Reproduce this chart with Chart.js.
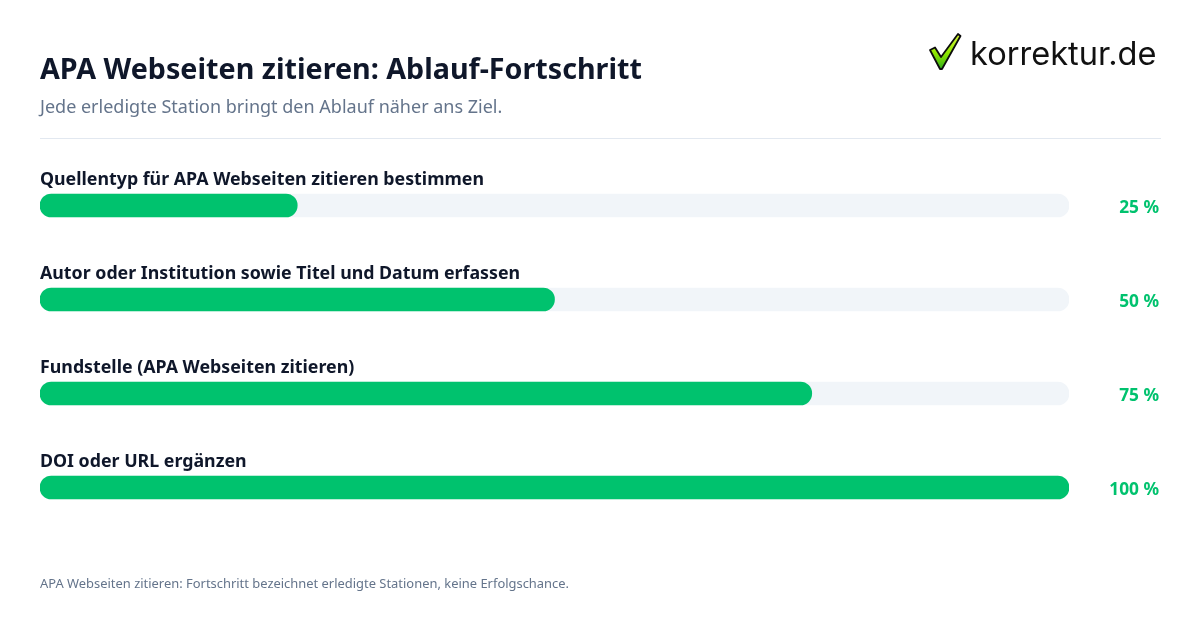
<!DOCTYPE html>
<html lang="de"><head><meta charset="utf-8">
<style>
html,body{margin:0;padding:0;background:#fff;width:1200px;height:630px;overflow:hidden;font-family:"Noto Sans",sans-serif}
#wrap{position:relative;width:1200px;height:630px}
#wrap div,#wrap svg,#wrap canvas{position:absolute}
#title{left:40px;top:47px;font-size:28.7px;font-weight:700;color:#0f172a;line-height:42px;white-space:nowrap}
#sub{left:40px;top:93px;font-size:18px;color:#64748b;line-height:26px;white-space:nowrap}
#rule{left:40px;top:138px;width:1121px;height:1px;background:#e2e8f0}
#foot{left:40px;top:573px;font-size:12.93px;color:#64748b;line-height:20px;white-space:nowrap}
#logo{left:970px;top:31px;font-family:Inter,sans-serif;font-size:32.6px;color:#111;line-height:44px;white-space:nowrap}
#c{left:0;top:0}
</style></head><body>
<div id="wrap">
<canvas id="c" width="1200" height="630" style="width:1200px;height:630px"></canvas>
<div id="title">APA Webseiten zitieren: Ablauf-Fortschritt</div>
<div id="sub">Jede erledigte Station bringt den Ablauf näher ans Ziel.</div>
<div id="rule"></div>
<svg style="left:925px;top:30px" width="40" height="44" viewBox="0 0 40 44">
<defs><linearGradient id="g" x1="0" y1="0" x2="0" y2="1"><stop offset="0" stop-color="#d8f53a"/><stop offset="0.55" stop-color="#8fe600"/><stop offset="1" stop-color="#2fae1a"/></linearGradient></defs>
<path d="M5 20 L10 17.5 L16 27 L33 4 L35.5 6 L17 39 L15 39 Z" fill="url(#g)" stroke="#0c0c0c" stroke-width="1.8" stroke-linejoin="round"/>
</svg>
<div id="logo">korrektur.de</div>
<div id="foot">APA Webseiten zitieren: Fortschritt bezeichnet erledigte Stationen, keine Erfolgschance.</div>
</div>
<script src="https://cdn.jsdelivr.net/npm/chart.js@4"></script>
<script>
const categories=["Quellentyp für APA Webseiten zitieren bestimmen","Autor oder Institution sowie Titel und Datum erfassen","Fundstelle (APA Webseiten zitieren)","DOI oder URL ergänzen"];
const progress=[25,50,75,100];
const track=[100,100,100,100];
const pctLabels=["25 %","50 %","75 %","100 %"];
Chart.defaults.font.family='"Noto Sans",sans-serif';
new Chart(document.getElementById('c'),{
 type:'bar',
 data:{labels:categories,datasets:[
  {label:'Fortschritt',data:progress,backgroundColor:'#00c26e',borderRadius:12,borderSkipped:false,barThickness:23,grouped:false,order:1},
  {label:'Gesamt',data:track,backgroundColor:'#f1f5f9',borderRadius:12,borderSkipped:false,barThickness:23,grouped:false,order:2}
 ]},
 options:{indexAxis:'y',responsive:false,animation:false,
  layout:{padding:{left:40,right:41,top:158.5,bottom:95.5}},
  plugins:{legend:{display:false},tooltip:{enabled:false}},
  scales:{
   x:{type:'linear',min:0,max:100,display:false},
   y:{type:'category',position:'left',grid:{display:false},border:{display:false},
      afterFit(s){s.width=0},
      ticks:{mirror:true,padding:0,labelOffset:-26,color:'#0f172a',font:{size:17.8,weight:'700'},autoSkip:false}},
   y2:{type:'category',position:'right',labels:pctLabels,grid:{display:false},border:{display:false},
      afterFit(s){s.width=90},
      ticks:{crossAlign:'far',padding:0,labelOffset:3,color:'#00c26e',font:{size:17.3,weight:'700'},autoSkip:false}}
  }}
});
</script>
</body></html>
